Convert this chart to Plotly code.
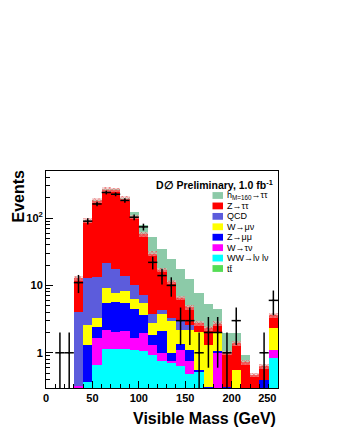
import plotly.graph_objects as go

# 10 GeV bins, 0-250 GeV
bin_centers = [5, 15, 25, 35, 45, 55, 65, 75, 85, 95, 105, 115, 125,
               135, 145, 155, 165, 175, 185, 195, 205, 215, 225, 235, 245]

# background components (events per bin), bottom of the stack first
ttbar = [0, 0, 0, 0, 0, 0.01, 0.02, 0.02, 0.02, 0.02, 0.02, 0.02, 0.02,
         0.01, 0.01, 0.01, 0.01, 0, 0, 0, 0, 0, 0, 0, 0]
ww_lvlv = [0, 0, 0, 0, 0.37, 0.64, 1.12, 1.12, 1.10, 1.07, 1.05, 0.92, 0.74,
           0.70, 0.62, 0.47, 0.51, 0, 0, 0, 0, 0, 0, 0, 0.85]
w_taunu = [0, 0, 0, 0.32, 0, 0.99, 1.05, 0.93, 1.02, 0.56, 0.89, 0.38, 0.24,
           0.05, 0.48, 0.27, 0, 0, 1.02, 0, 0, 0, 0, 0, 0.25]
z_mumu = [0, 0, 0, 0, 0.93, 0.80, 3.23, 3.55, 3.28, 2.77, 1.66, 0.53, 1.12,
          0.23, 0.23, 0.36, 0.03, 0.31, 0.06, 0.31, 0, 0, 0, 0.39, 0]
w_munu = [0, 0, 0, 0, 1.27, 0.80, 3.6, 2.1, 2.9, 1.9, 1.8, 0.90, 1.7,
          2.07, 0.84, 1.07, 1.47, 1.0, 0.88, 0, 0.56, 0, 0, 0, 1.2]
qcd = [0, 0, 0, 3.65, 10.4, 9.9, 12.6, 9.7, 5.4, 3.7, 1.8, 0.97, 0.5,
       0.18, 0.88, 0.40, 0, 0, 0, 0, 0, 0, 0, 0, 0]
z_tautau = [0, 0, 0, 8.8, 79, 170, 243, 245, 180, 94, 50, 26, 12.7,
            8.1, 3.45, 2.13, 0.73, 1.0, 0.74, 0.69, 0.82, 0.72, 0.47, 0.24, 1.32]
higgs = [0, 0, 0, 0, 0, 0.5, 1, 2, 3, 19, 21, 22, 18,
         13.7, 11.3, 7.9, 5.1, 3.0, 1.7, 0.98, 0.6, 0.22, 0, 0, 0]

# observed data and its errors
data_counts = [0, 1, 1, 11, 90, 162, 240, 226, 183, 103, 74, 22, 14,
               10, 3, 3, 1, 2, 2, 1, 3, 0, 0, 1, 6]
data_errors = [0, 1, 1, 3.3, 9.5, 12.7, 15.5, 15, 13.5, 10.1, 8.6, 4.7, 3.7,
               3.2, 1.7, 1.7, 1, 1.4, 1.4, 1, 1.7, 0, 0, 1, 2.4]

x_tick_vals = [0, 50, 100, 150, 200, 250]
# last label pulled left inside the frame, as in the original
x_tick_text = ["0", "50", "100", "150", "200", "250" + "\u00a0" * 7]

legend_labels = ["h<sub>M=160</sub>\u2192\u03c4\u03c4", "Z\u2192\u03c4\u03c4", "QCD",
                 "W\u2192\u03bc\u03bd", "Z\u2192\u03bc\u03bc", "W\u2192\u03c4\u03bd",
                 "WW\u2192l\u03bd l\u03bd", "tt\u0304"]

colors = {
    "ttbar": "#55dd55",
    "ww": "#00ffff",
    "wtaunu": "#ff00ff",
    "zmumu": "#0000ff",
    "wmunu": "#ffff00",
    "qcd": "#5c5cdc",
    "ztautau": "#ff0000",
    "higgs": "#8ccaa8",
}

FONT = "Liberation Sans, Arial, sans-serif"
OFF = 8  # page body margin
W, H = 337 - 2 * OFF, 436 - 2 * OFF
L, R, T, B = 46, 278, 171, 388  # frame in page pixels


def px_x(x):
    return (x - L) / (R - L)


def px_y(y):
    return (B - y) / (B - T)


stack = [
    (ttbar, colors["ttbar"]),
    (ww_lvlv, colors["ww"]),
    (w_taunu, colors["wtaunu"]),
    (z_mumu, colors["zmumu"]),
    (w_munu, colors["wmunu"]),
    (qcd, colors["qcd"]),
    (z_tautau, colors["ztautau"]),
    (higgs, colors["higgs"]),
]

fig = go.Figure()
for vals, col in stack:
    fig.add_trace(go.Bar(x=bin_centers, y=vals, width=10,
                         marker=dict(color=col, line=dict(width=0)),
                         showlegend=False, hoverinfo="skip"))

# hatched uncertainty band on the background total
bkg_total = [sum(v) for v in zip(ttbar, ww_lvlv, w_taunu, z_mumu, w_munu, qcd, z_tautau)]
band_frac = 0.08
fig.add_trace(go.Bar(
    x=bin_centers, y=[t * 2 * band_frac for t in bkg_total],
    base=[t * (1 - band_frac) for t in bkg_total], width=10,
    xaxis="x2", yaxis="y",
    marker=dict(color="rgba(0,0,0,0)", line=dict(width=0),
                pattern=dict(shape="x", fgcolor="#e81010", bgcolor="rgba(235,190,190,0.55)",
                             size=3, solidity=0.45)),
    showlegend=False, hoverinfo="skip",
))

# data points
dx, dy, de, dem = [], [], [], []
for c, n, e in zip(bin_centers, data_counts, data_errors):
    if n > 0:
        dx.append(c)
        dy.append(n)
        de.append(e)
        dem.append(min(e, n * 0.999))
fig.add_trace(go.Scatter(
    x=dx, y=dy, mode="markers", xaxis="x2", yaxis="y",
    marker=dict(color="black", size=2),
    error_x=dict(type="constant", value=5, color="black", thickness=1.5, width=0),
    error_y=dict(type="data", array=de, arrayminus=dem, color="black", thickness=1.5, width=0),
    showlegend=False, hoverinfo="skip",
))

# legend drawn by hand to match the tight row spacing
legend_colors = [colors["higgs"], colors["ztautau"], colors["qcd"], colors["wmunu"],
                 colors["zmumu"], colors["wtaunu"], colors["ww"], colors["ttbar"]]
shapes = []
annotations = []
for i, (lab, col) in enumerate(zip(legend_labels, legend_colors)):
    yc = 195.5 + 10.43 * i
    shapes.append(dict(type="rect", xref="paper", yref="paper",
                       x0=px_x(212.5), x1=px_x(223), y0=px_y(yc + 3.4), y1=px_y(yc - 3.4),
                       fillcolor=col, line=dict(width=0)))
    annotations.append(dict(text=lab, xref="paper", yref="paper", x=px_x(225), y=px_y(yc),
                            xanchor="left", yanchor="middle", showarrow=False,
                            font=dict(family=FONT, size=9, color="black")))

annotations += [
    dict(text="<b>D\u2205 Preliminary, 1.0 fb<sup>-1</sup></b>", xref="paper", yref="paper",
         x=px_x(275), y=px_y(184), xanchor="right", yanchor="middle", showarrow=False,
         font=dict(family=FONT, size=10.5, color="black")),
    dict(text="<b>Events</b>", xref="paper", yref="paper", x=px_x(18), y=px_y(196.5),
         xanchor="center", yanchor="middle", textangle=-90, showarrow=False,
         font=dict(family=FONT, size=16, color="black")),
    dict(text="<b>Visible Mass (GeV)</b>", xref="paper", yref="paper", x=1.0, y=px_y(418),
         xanchor="right", yanchor="middle", showarrow=False,
         font=dict(family=FONT, size=16, color="black")),
]

minor_y = [0.3, 0.4, 0.5, 0.6, 0.7, 0.8, 0.9, 2, 3, 4, 5, 6, 7, 8, 9,
           20, 30, 40, 50, 60, 70, 80, 90, 200, 300, 400, 500]

fig.update_layout(
    width=W, height=H,
    margin=dict(l=L - OFF, r=(W + OFF) - R, t=T - OFF, b=(H + OFF) - B, pad=0),
    paper_bgcolor="white", plot_bgcolor="white",
    barmode="stack", bargap=0,
    showlegend=False,
    font=dict(family=FONT, color="black"),
    xaxis=dict(range=[0, 250], tickmode="array", tickvals=x_tick_vals, ticktext=x_tick_text,
               ticks="inside", ticklen=7,
               tickcolor="black", showline=True, linecolor="black", linewidth=1,
               mirror=True, showgrid=False, zeroline=False,
               tickfont=dict(family=FONT, size=11, color="black", weight="bold"),
               minor=dict(tickmode="linear", tick0=0, dtick=10, ticks="inside",
                          ticklen=4, tickcolor="black")),
    xaxis2=dict(range=[0, 250], overlaying="x", visible=False),
    yaxis=dict(type="log", range=[-0.523, 2.699], tickvals=[1, 10, 100],
               ticktext=["1", "10", "10<sup>2</sup>"], ticks="inside", ticklen=7,
               tickcolor="black", showline=True, linecolor="black", linewidth=1,
               mirror=True, showgrid=False, zeroline=False,
               tickfont=dict(family=FONT, size=11, color="black", weight="bold"),
               minor=dict(tickvals=minor_y, ticks="inside", ticklen=4, tickcolor="black")),
    shapes=shapes,
    annotations=annotations,
)

fig.write_html("out.html")
